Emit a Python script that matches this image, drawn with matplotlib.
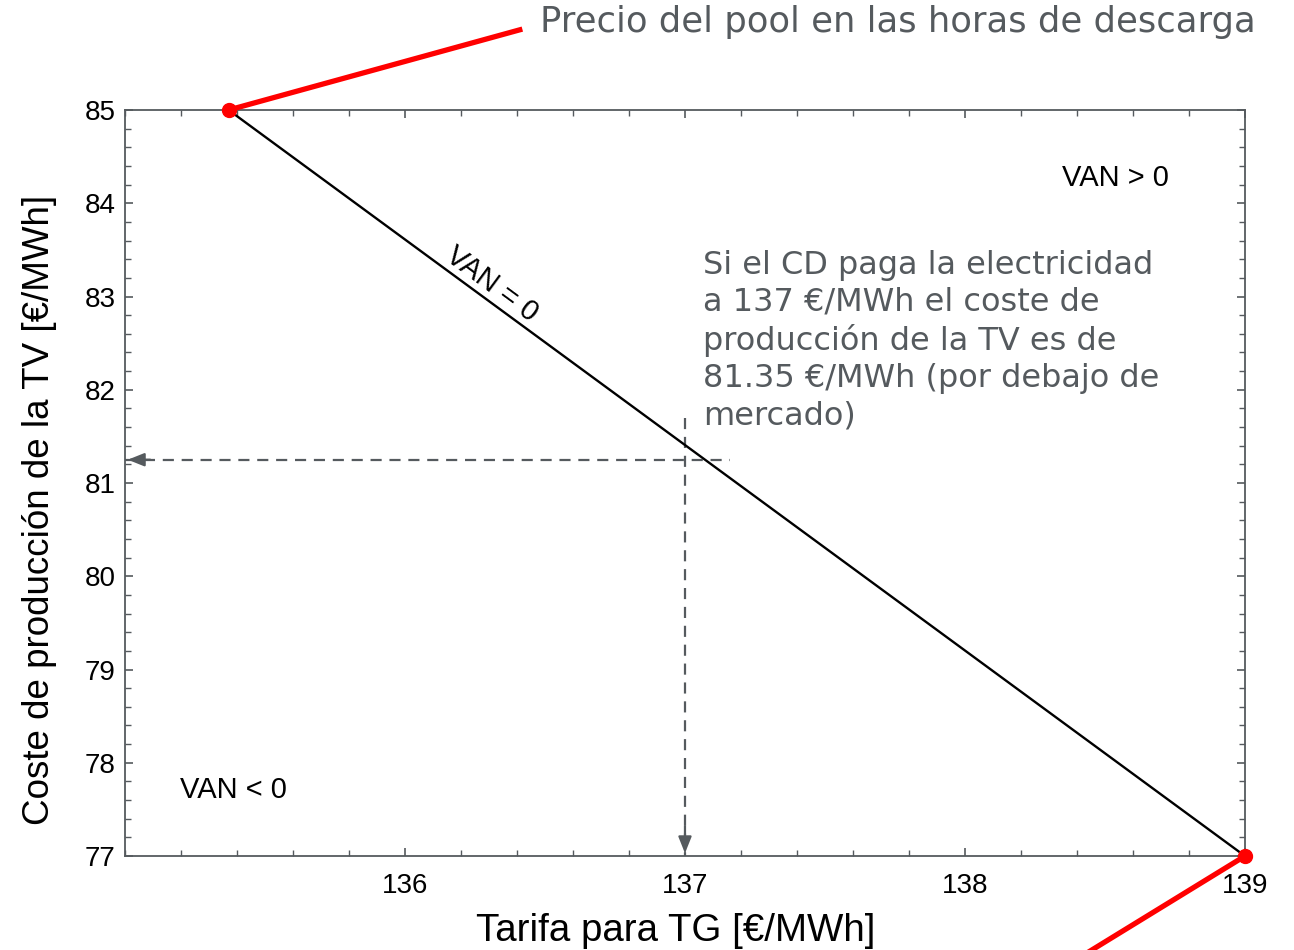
import numpy as np
import matplotlib.pyplot as plt
from matplotlib.ticker import MultipleLocator

# %% data
tarifa = [135.37, 139.0]          # Tarifa para TG [€/MWh]
coste = [85.0, 77.0]              # Coste de producción de la TV [€/MWh]
pool_top = [135.37, 136.41]       # red leader lines (data coords, run off the axes)
pool_top_y = [85.0, 85.86]
pool_bot = [139.0, 138.43]
pool_bot_y = [77.0, 75.95]
ref_x = 137.0
ref_y = 81.25
xticks = [136, 137, 138, 139]
yticks = [77, 78, 79, 80, 81, 82, 83, 84, 85]

gray = '#555a5e'
plt.rcParams['font.family'] = ['Liberation Sans', 'DejaVu Sans']

# %% figure
fig = plt.figure(figsize=(12.94, 9.5), dpi=100)
ax = fig.add_axes([0.0966, 0.0989, 0.8655, 0.7853])

ax.plot(tarifa, coste, color='black', lw=1.7, zorder=3)

# dashed guide lines with arrow heads
ax.plot([135.0, 137.16], [ref_y, ref_y], color=gray, lw=1.6, ls=(0, (5, 3.5)), zorder=2)
ax.plot([ref_x, ref_x], [81.7, 77.0], color=gray, lw=1.6, ls=(0, (5, 3.5)), zorder=2)
ax.annotate('', xy=(135.0, ref_y), xytext=(135.1, ref_y),
            arrowprops=dict(arrowstyle='-|>,head_length=1.0,head_width=0.4', color=gray, lw=1.6))
ax.annotate('', xy=(ref_x, 77.0), xytext=(ref_x, 77.35),
            arrowprops=dict(arrowstyle='-|>,head_length=1.0,head_width=0.4', color=gray, lw=1.6))

# red leader lines to the pool price label
ax.plot(pool_top, pool_top_y, color='#ff0000', lw=3.8, clip_on=False, zorder=4)
ax.plot(pool_bot, pool_bot_y, color='#ff0000', lw=3.8, clip_on=False, zorder=4)
ax.plot([tarifa[0], tarifa[1]], [coste[0], coste[1]], 'o', color='#ff0000', ms=10,
        clip_on=False, zorder=5, ls='none')

ax.set_xlim(135, 139)
ax.set_ylim(77, 85)
ax.set_xticks(xticks)
ax.set_yticks(yticks)
ax.xaxis.set_minor_locator(MultipleLocator(0.2))
ax.yaxis.set_minor_locator(MultipleLocator(0.2))
ax.tick_params(which='both', direction='in', top=True, right=True, colors=gray,
               labelcolor='black', labelsize=20)
ax.tick_params(which='major', length=6, width=1.2)
ax.tick_params(which='minor', length=4, width=1.0)
ax.tick_params(axis='x', pad=12)
ax.tick_params(axis='y', pad=7)
for s in ax.spines.values():
    s.set_color(gray)
    s.set_linewidth(1.3)

ax.set_xlabel('Tarifa para TG [€/MWh]', fontsize=27.7)
ax.set_ylabel('Coste de producción de la TV [€/MWh]', fontsize=26.5)
ax.xaxis.set_label_coords(0.492, -0.0764)
ax.yaxis.set_label_coords(-0.061, 0.464)

ax.text(136.31, 83.13, 'VAN = 0', fontsize=21, rotation=-36.4, ha='center', va='center')
ax.text(138.73, 84.27, 'VAN > 0', fontsize=21, ha='right', va='center')
ax.text(135.195, 77.71, 'VAN < 0', fontsize=21, ha='left', va='center')

note = ('Si el CD paga la electricidad\na 137 €/MWh el coste de\n'
        'producción de la TV es de\n81.35 €/MWh (por debajo de\nmercado)')
ax.text(137.065, 83.50, note, fontsize=23, color=gray, ha='left', va='top',
        linespacing=1.25, family=['DejaVu Sans'])

fig.text(540 / 1294, 1 - 22 / 950, 'Precio del pool en las horas de descarga',
         fontsize=25.5, color=gray, ha='left', va='center', family=['DejaVu Sans'])

fig.savefig('out.png', dpi=100)
